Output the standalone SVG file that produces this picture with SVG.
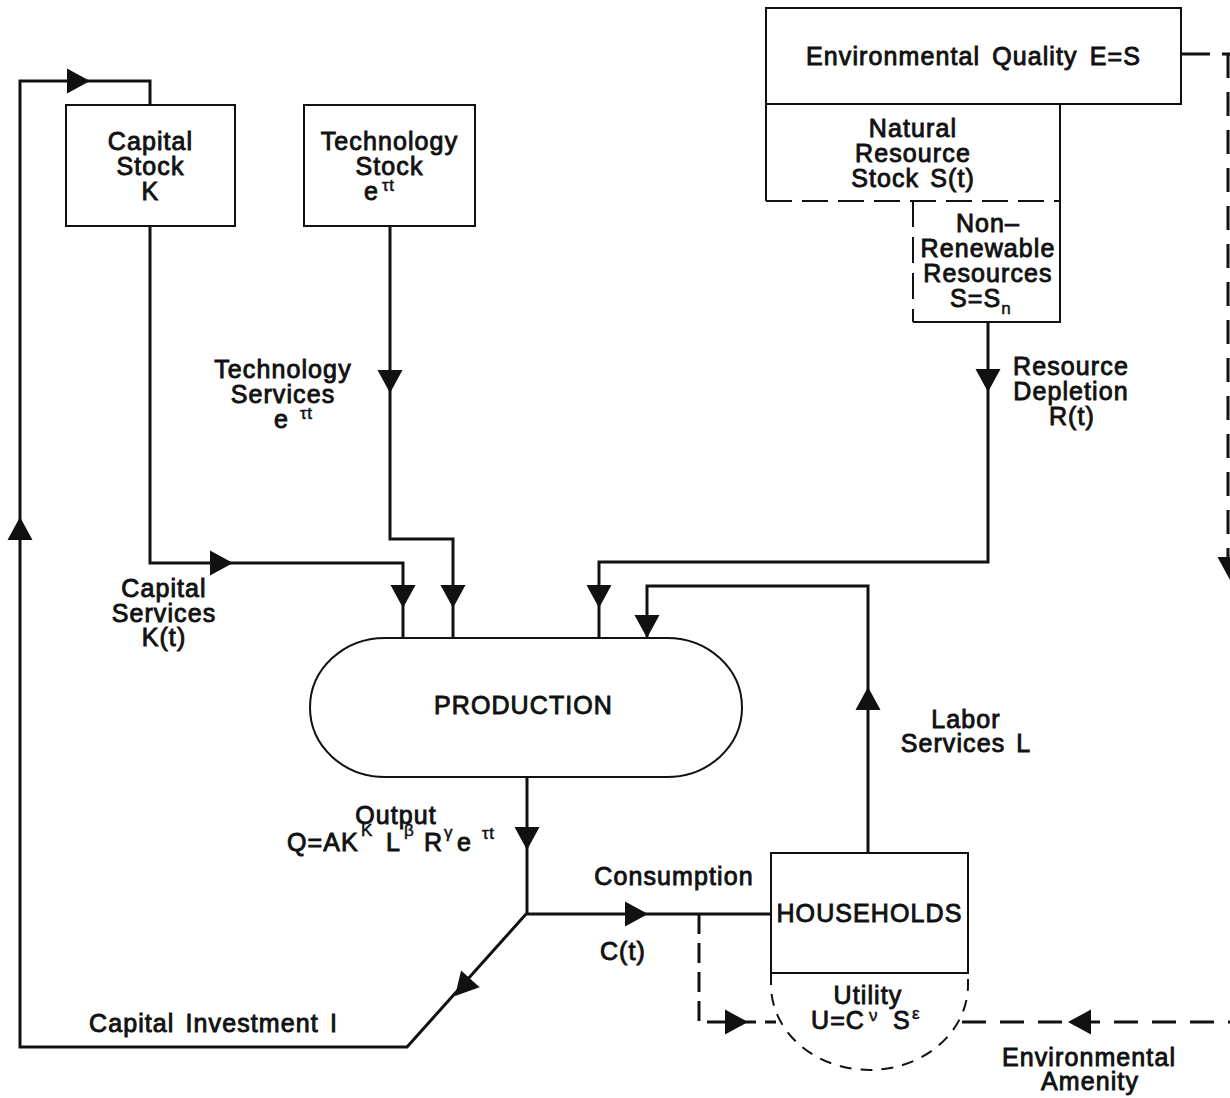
<svg xmlns="http://www.w3.org/2000/svg" width="1230" height="1098" viewBox="0 0 1230 1098">
<style>
.bg{fill:#fff}
.box{fill:none;stroke:#111;stroke-width:2}
.ln{fill:none;stroke:#111;stroke-width:3}
.dsh{fill:none;stroke:#111;stroke-width:2;stroke-dasharray:26 10}
.dsh2{fill:none;stroke:#111;stroke-width:3;stroke-dasharray:20 9}
.dsh3{fill:none;stroke:#111;stroke-width:3;stroke-dasharray:24 14}
.dsh4{fill:none;stroke:#111;stroke-width:2;stroke-dasharray:12 9}
.t{font-family:"Liberation Sans",Arial,sans-serif;font-size:25px;fill:#111;stroke:#111;stroke-width:0.9;letter-spacing:1.1px}
.c{text-anchor:middle}
.s{font-size:17px;stroke-width:0.5;letter-spacing:0.5px}
.ah{fill:#111}
</style>
<defs>
<path id="ah" d="M0,0 L-23,-12.5 L-23,12.5 Z"/>
</defs>
<rect class="bg" x="0" y="0" width="1230" height="1098"/>

<g id="capital-stock">
<rect class="box" x="66" y="105" width="169" height="121"/>
<text class="t c" x="150.5" y="150">Capital</text>
<text class="t c" x="150.5" y="175">Stock</text>
<text class="t c" x="150.5" y="200">K</text>
</g>

<g id="technology-stock">
<rect class="box" x="304" y="105" width="171" height="121"/>
<text class="t c" x="389.5" y="150">Technology</text>
<text class="t c" x="389.5" y="175">Stock</text>
<text class="t" x="364" y="200">e<tspan class="s" x="382" y="191">τt</tspan></text>
</g>

<g id="environmental-quality">
<rect class="box" x="766" y="8" width="415" height="96"/>
<text class="t c" x="973.5" y="65" word-spacing="4">Environmental Quality E=S</text>
</g>

<g id="natural-resource-stock">
<path class="box" d="M766,104 V201 M1060,104 V201"/>
<path class="dsh" d="M766,201 H1060"/>
<text class="t c" x="913" y="137">Natural</text>
<text class="t c" x="913" y="162">Resource</text>
<text class="t c" x="913" y="187" word-spacing="3">Stock S(t)</text>
</g>

<g id="non-renewable-resources">
<path class="box" d="M1060,201 V322 H913"/>
<path class="dsh" d="M913,201 V322"/>
<text class="t c" x="988" y="232">Non–</text>
<text class="t c" x="988" y="257">Renewable</text>
<text class="t c" x="988" y="282">Resources</text>
<text class="t" x="950" y="307">S=S<tspan class="s" y="314" font-size="21px">n</tspan></text>
</g>

<g id="production">
<rect class="box" x="310" y="638" width="432" height="139" rx="75" ry="69.5"/>
<text class="t c" x="523.5" y="714">PRODUCTION</text>
</g>

<g id="households">
<rect class="box" x="771" y="853" width="197" height="120"/>
<text class="t c" x="869.5" y="922">HOUSEHOLDS</text>
</g>

<g id="utility">
<path class="dsh4" d="M771,973 V985 A98.5,85 0 0 0 968,985 V973"/>
<text class="t c" x="868" y="1004">Utility</text>
<text class="t" x="811" y="1029">U=C<tspan class="s" x="869" y="1021">ν</tspan><tspan x="893" y="1029">S</tspan><tspan class="s" x="912" y="1019">ε</tspan></text>
</g>

<g id="connectors">
<path class="ln" d="M527,777 V913 L407,1047 H20 V81 H150 V105"/>
<path class="ln" d="M150,226 V563 H403 V638"/>
<path class="ln" d="M390,226 V539 H453 V638"/>
<path class="ln" d="M988,322 V562 H599 V638"/>
<path class="ln" d="M868,853 V586 H647 V638"/>
<path class="ln" d="M527,914 H771"/>
<path class="dsh2" d="M699,914 V1022 H776"/>
<path class="dsh3" d="M962,1022 H1230"/>
<path class="ln" d="M1181,54 H1210 M1222,54 H1230"/>
<path class="dsh3" d="M1228,54 V560"/>

<use href="#ah" class="ah" transform="translate(90,81)"/>
<use href="#ah" class="ah" transform="translate(20,517) rotate(-90)"/>
<use href="#ah" class="ah" transform="translate(390,393) rotate(90)"/>
<use href="#ah" class="ah" transform="translate(233,563)"/>
<use href="#ah" class="ah" transform="translate(403,608) rotate(90)"/>
<use href="#ah" class="ah" transform="translate(453,608) rotate(90)"/>
<use href="#ah" class="ah" transform="translate(988,392) rotate(90)"/>
<use href="#ah" class="ah" transform="translate(599,608) rotate(90)"/>
<use href="#ah" class="ah" transform="translate(647,638) rotate(90)"/>
<use href="#ah" class="ah" transform="translate(868,687) rotate(-90)"/>
<use href="#ah" class="ah" transform="translate(527,850) rotate(90)"/>
<use href="#ah" class="ah" transform="translate(648,914)"/>
<use href="#ah" class="ah" transform="translate(455,996) rotate(132)"/>
<use href="#ah" class="ah" transform="translate(748,1022)"/>
<use href="#ah" class="ah" transform="translate(1068,1022) rotate(180)"/>
<use href="#ah" class="ah" transform="translate(1230,580) rotate(90)"/>

<text class="t c" x="283" y="378">Technology</text>
<text class="t c" x="283" y="403">Services</text>
<text class="t" x="274" y="428">e<tspan class="s" x="300" y="419">τt</tspan></text>

<text class="t c" x="164" y="597">Capital</text>
<text class="t c" x="164" y="622">Services</text>
<text class="t c" x="164" y="646">K(t)</text>

<text class="t c" x="1071" y="375">Resource</text>
<text class="t c" x="1071" y="400">Depletion</text>
<text class="t c" x="1072" y="425">R(t)</text>

<text class="t c" x="966" y="728">Labor</text>
<text class="t c" x="966" y="752" word-spacing="3">Services L</text>

<text class="t c" x="396" y="824">Output</text>
<text class="t" x="287" y="851">Q=AK<tspan class="s" x="361" y="836">K</tspan><tspan x="386" y="851">L</tspan><tspan class="s" x="404" y="836">β</tspan><tspan x="424" y="851">R</tspan><tspan class="s" x="444" y="838">γ</tspan><tspan x="457" y="851">e</tspan><tspan class="s" x="482" y="839">τt</tspan></text>

<text class="t c" x="674" y="885">Consumption</text>
<text class="t c" x="623" y="960">C(t)</text>

<text class="t" x="89" y="1032" word-spacing="3">Capital Investment I</text>

<text class="t c" x="1089" y="1066">Environmental</text>
<text class="t c" x="1090" y="1090">Amenity</text>
</g>
</svg>
